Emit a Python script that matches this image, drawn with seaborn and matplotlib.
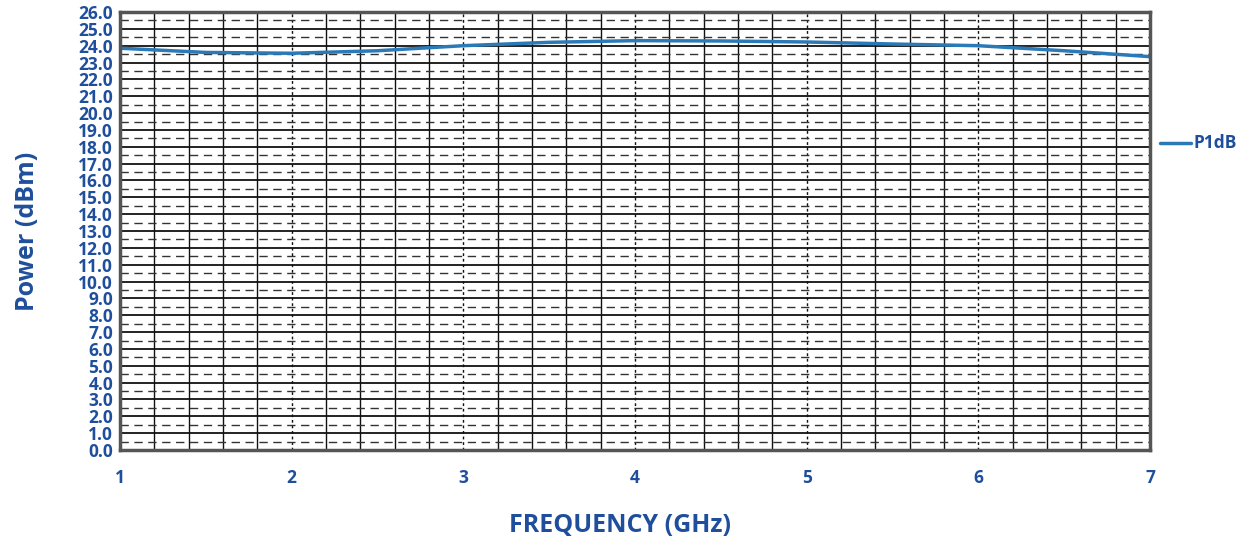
import matplotlib
matplotlib.use("Agg")
import matplotlib.pyplot as plt
import seaborn as sns
import numpy as np
import pandas as pd
from matplotlib.ticker import MultipleLocator, FormatStrFormatter

freq_ghz = [1.0, 1.5, 2.0, 2.5, 3.0, 3.5, 4.0, 4.5, 5.0, 5.5, 6.0, 6.5, 7.0]
p1db = [23.85, 23.6, 23.55, 23.7, 24.0, 24.2, 24.3, 24.28, 24.22, 24.1, 24.0, 23.7, 23.35]
series_name = "P1dB"
x_label = "FREQUENCY (GHz)"
y_label = "Power (dBm)"

sns.set_theme(style="white")
plt.rcParams['font.family'] = ['Open Sans', 'DejaVu Sans']

text_color = "#1f4e9c"
line_color = "#2a7ab8"

fig = plt.figure(figsize=(12.55, 5.44), dpi=100)
ax = fig.add_axes([120/1255, 1-450/544, (1150-120)/1255, (450-12)/544])

df = pd.DataFrame({"freq": freq_ghz, "p": p1db, "s": series_name})
sns.lineplot(data=df, x="freq", y="p", hue="s", palette=[line_color], ax=ax,
             linewidth=2.5, legend=True)

ax.set_xlim(1, 7)
ax.set_ylim(0, 26)
ax.xaxis.set_major_locator(MultipleLocator(1))
ax.xaxis.set_minor_locator(MultipleLocator(0.2))
ax.yaxis.set_major_locator(MultipleLocator(1))
ax.yaxis.set_minor_locator(MultipleLocator(0.5))
ax.yaxis.set_major_formatter(FormatStrFormatter('%.1f'))
ax.xaxis.set_major_formatter(FormatStrFormatter('%d'))

ax.grid(False)
ax.grid(which='minor', axis='x', color='#111111', linestyle='-', linewidth=1.0)
ax.grid(which='major', axis='x', color='#111111', linestyle=(0, (2, 2)), linewidth=1.0)
ax.grid(which='major', axis='y', color='#111111', linestyle='-', linewidth=1.3)
ax.grid(which='minor', axis='y', color='#333333', linestyle=(0, (6, 4)), linewidth=1.0)
ax.set_axisbelow(True)

for sp in ax.spines.values():
    sp.set_color('#555555')
    sp.set_linewidth(2.5)
    sp.set_visible(True)

ax.tick_params(which='both', length=0)
ax.tick_params(axis='x', pad=14)
ax.tick_params(axis='y', pad=5)
for lab in ax.get_xticklabels() + ax.get_yticklabels():
    lab.set_color(text_color)
    lab.set_fontweight('bold')
    lab.set_fontsize(12.5)

ax.set_xlabel(x_label, color=text_color, fontsize=18, fontweight='bold', va='center')
ax.set_ylabel(y_label, color=text_color, fontsize=18, fontweight='bold', va='center')
ax.xaxis.set_label_coords((620-120)/1030, (450-525)/438)
ax.yaxis.set_label_coords((28-120)/1030, 0.5)

leg = ax.legend(loc='center left', bbox_to_anchor=(1160/1255, 1-143/544),
                bbox_transform=fig.transFigure, frameon=False, handlelength=2.0,
                handletextpad=0.2, borderaxespad=0, borderpad=0)
for t in leg.get_texts():
    t.set_color(text_color)
    t.set_fontweight('bold')
    t.set_fontsize(12.5)

fig.savefig("out.png", dpi=100)
